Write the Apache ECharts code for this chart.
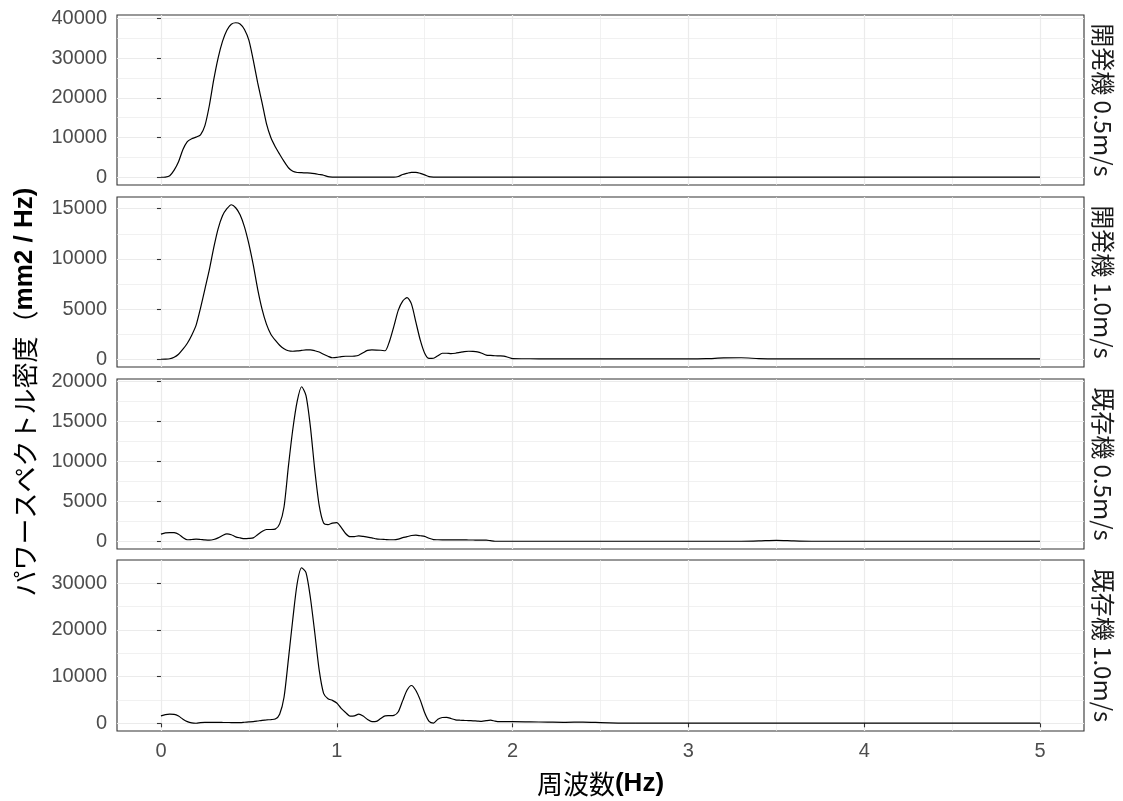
<!DOCTYPE html>
<html><head><meta charset="utf-8">
<script src="https://cdn.jsdelivr.net/npm/echarts@6/dist/echarts.min.js"></script>
<style>html,body{margin:0;padding:0;background:#fff}#c{width:1123px;height:801px}</style>
</head><body><div id="c"></div>
<script>
// ---- data ----
const freq = [0,0.025,0.05,0.075,0.1,0.125,0.15,0.175,0.2,0.225,0.25,0.275,0.3,0.325,0.35,0.375,0.4,0.425,0.45,0.475,
  0.5,0.525,0.55,0.575,0.6,0.625,0.65,0.675,0.7,0.725,0.75,0.775,0.8,0.825,0.85,0.875,0.9,0.925,0.95,0.975,
  1.0,1.025,1.05,1.075,1.1,1.125,1.15,1.175,1.2,1.225,1.25,1.275,1.3,1.325,1.35,1.375,1.4,1.425,1.45,1.475,
  1.5,1.525,1.55,1.575,1.6,1.625,1.65,1.675,1.7,1.725,1.75,1.775,1.8,1.825,1.85,1.875,1.9,1.925,1.95,1.975,2.0,
  2.1,2.2,2.3,2.4,2.5,2.6,2.7,2.8,2.9,3.0,3.1,3.2,3.3,3.4,3.5,3.6,3.7,3.8,3.9,4.0,4.1,4.2,4.3,4.4,4.5,4.6,4.7,4.8,4.9,5.0];

const panelLabels = ['開発機 0.5m/s','開発機 1.0m/s','既存機 0.5m/s','既存機 1.0m/s'];

const dev05 = [0,50,400,1800,3900,7000,9000,9700,10100,10700,13000,18000,24500,30000,34200,37000,38500,38900,38600,37200,
  34500,29500,23800,18800,13500,10000,7700,5800,4000,2400,1500,1200,1150,1100,1050,900,700,500,150,50,
  30,30,30,30,30,30,30,30,30,30,30,30,30,30,200,700,1000,1250,1250,1000,
  600,150,40,30,30,30,30,30,30,30,30,30,30,30,30,30,30,30,30,30,30,
  30,30,30,30,30,30,30,30,30,30,30,30,30,30,30,30,30,30,30,30,30,30,30,30,30,30,30,30,30,30];

const dev10 = [0,10,50,200,500,1000,1600,2400,3400,5100,7000,8900,11100,13000,14300,15000,15400,15100,14400,13200,
  11500,9400,7000,5000,3500,2500,1900,1400,1050,850,800,830,880,930,930,850,720,500,300,150,
  180,270,300,300,320,400,650,880,930,920,900,850,1800,3300,4900,5800,6150,5500,3700,1900,
  600,80,100,350,600,600,560,600,680,760,800,780,730,600,420,380,350,340,320,200,70,
  50,40,40,40,40,40,40,40,40,40,60,130,150,70,40,40,40,40,40,40,40,40,40,40,40,40,40,40,40,40];

const old05 = [920,1080,1120,1100,900,500,220,250,290,250,200,170,250,450,750,950,850,580,450,350,
  380,450,850,1250,1500,1500,1550,2200,4300,9400,14000,17500,19300,18200,14300,8900,4500,2300,2100,2300,
  2350,1750,1000,600,620,700,640,550,450,330,280,250,220,220,300,480,600,750,790,720,
  650,400,240,220,210,210,210,200,200,200,190,190,180,180,180,100,30,30,30,30,30,
  30,30,30,30,30,30,30,30,30,30,30,30,30,70,150,70,30,30,30,30,30,30,30,30,30,30,30,30,30,30];

const old10 = [1590,1860,1950,1910,1550,880,360,80,20,155,217,217,217,207,186,176,165,145,165,227,
  290,360,500,650,720,810,910,1960,5580,13750,22330,29990,33300,32260,26880,19340,11370,6410,5270,4910,
  4340,3210,2320,1550,1600,1950,1550,830,360,410,1030,1610,1650,1710,2480,4860,7130,8100,7030,4960,
  2270,410,50,880,1240,1290,1030,740,670,620,580,540,480,430,570,670,470,360,360,360,360,
  310,260,210,260,155,50,30,30,30,30,30,30,30,30,30,30,30,30,30,30,30,30,30,30,30,30,30,30,30,30];

const seriesValues = [dev05, dev10, old05, old10];

const xTicks = [0,1,2,3,4,5];
const xMinor = [0.5,1.5,2.5,3.5,4.5];
const yTicks = [
  [0,10000,20000,30000,40000],
  [0,5000,10000,15000],
  [0,5000,10000,15000,20000],
  [0,10000,20000,30000]
];
const yMinor = [
  [5000,15000,25000,35000],
  [2500,7500,12500],
  [2500,7500,12500,17500],
  [5000,15000,25000]
];

// ---- layout ----
const panelTop = [15,197,379,560];
const panelH = [170,170,170,171];
const LEFT = 117, RIGHT_EDGE = 1084;
const GRID_C = '#EBEBEB';
const TXT = '#4D4D4D';
const numFont = 'Liberation Sans, Arial, sans-serif';
const plain = v => String(v);

const grids = [], xAxes = [], yAxes = [], series = [], graphics = [];
for (let i = 0; i < 4; i++) {
  grids.push({left: LEFT, top: panelTop[i], width: RIGHT_EDGE - LEFT, height: panelH[i],
    show: true, borderColor: '#333333', borderWidth: 1.1, backgroundColor: 'transparent'});
  const last = i === 3;
  xAxes.push({gridIndex: i, type: 'value', min: -0.25, max: 5.25,
    axisLine: {show: false},
    axisTick: {show: last, customValues: xTicks, length: 4, lineStyle: {color: '#333333', width: 1.1}},
    axisLabel: {show: last, customValues: xTicks, margin: 10, color: TXT, fontSize: 20, fontFamily: numFont, formatter: plain},
    splitLine: {show: true, lineStyle: {color: GRID_C, width: 1.2}},
    name: last ? '{n|周波数}{b|(Hz)}' : '', nameLocation: 'middle', nameGap: 40,
    nameTextStyle: {rich: {
      n: {fontSize: 26, fontFamily: 'Noto Sans CJK JP', color: '#000'},
      b: {fontSize: 26, fontFamily: numFont, fontWeight: 'bold', color: '#000'}
    }}
  });
  xAxes.push({gridIndex: i, type: 'value', min: -0.25, max: 5.25, position: 'bottom',
    axisLine: {show: false},
    axisTick: {show: false, customValues: xMinor},
    axisLabel: {show: false, customValues: xMinor},
    splitLine: {show: true, lineStyle: {color: GRID_C, width: 0.7}}
  });
  const vals = seriesValues[i];
  const dmin = Math.min(...vals), dmax = Math.max(...vals);
  const pad = (dmax - dmin) * 0.05;
  yAxes.push({gridIndex: i, type: 'value', min: dmin - pad, max: dmax + pad,
    axisLine: {show: false},
    axisTick: {show: true, customValues: yTicks[i], length: 4, lineStyle: {color: '#333333', width: 1.1}},
    axisLabel: {show: true, customValues: yTicks[i], margin: 10, color: TXT, fontSize: 20, fontFamily: numFont, formatter: plain},
    splitLine: {show: true, lineStyle: {color: GRID_C, width: 1.2}}
  });
  yAxes.push({gridIndex: i, type: 'value', min: dmin - pad, max: dmax + pad, position: 'left',
    axisLine: {show: false},
    axisTick: {show: false, customValues: yMinor[i]},
    axisLabel: {show: false, customValues: yMinor[i]},
    splitLine: {show: true, lineStyle: {color: GRID_C, width: 0.7}}
  });
  series.push({type: 'line', xAxisIndex: 2 * i, yAxisIndex: 2 * i,
    data: freq.map((f, k) => [f, vals[k]]),
    showSymbol: false, smooth: 0.25, silent: true, animation: false,
    lineStyle: {color: '#000000', width: 1.2}
  });
  graphics.push({type: 'text', x: 1103, y: panelTop[i] + panelH[i] / 2, rotation: -Math.PI / 2,
    style: {text: panelLabels[i], fill: '#1A1A1A', fontSize: 24, fontFamily: 'Noto Sans CJK JP',
      align: 'center', verticalAlign: 'middle'}});
}
graphics.push({type: 'text', x: 25, y: 392, rotation: Math.PI / 2,
  style: {text: '{n|パワースペクトル密度（}{b|mm2 / Hz)}', align: 'center', verticalAlign: 'middle',
    rich: {
      n: {fontSize: 26, fontFamily: 'Noto Sans CJK JP', fill: '#000', color: '#000'},
      b: {fontSize: 26, fontFamily: numFont, fontWeight: 'bold', fill: '#000', color: '#000'}
    }}});

const chart = echarts.init(document.getElementById('c'), null, {renderer: 'canvas'});
chart.setOption({
  animation: false,
  backgroundColor: '#ffffff',
  grid: grids, xAxis: xAxes, yAxis: yAxes, series: series, graphic: graphics
});
</script></body></html>
